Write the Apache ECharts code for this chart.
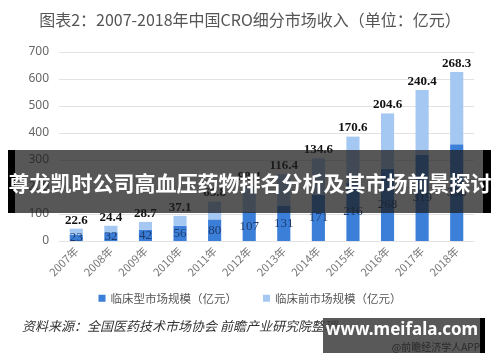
<!DOCTYPE html>
<html><head><meta charset="utf-8">
<script src="https://cdn.jsdelivr.net/npm/echarts@6/dist/echarts.min.js"></script>
<style>html,body{margin:0;padding:0;background:#fff}#c{width:500px;height:362px}</style>
</head><body><div id="c"></div>
<script>
const categories = ['2007年','2008年','2009年','2010年','2011年','2012年','2013年','2014年','2015年','2016年','2017年','2018年'];
const clinical = [23, 32, 42, 56, 80, 107, 131, 171, 216, 268, 319, 358];
const preclinical = [22.6, 24.4, 28.7, 37.1, 65.8, 98.4, 116.4, 134.6, 170.6, 204.6, 240.4, 268.3];
const yTicks = [0, 100, 200, 300, 400, 500, 600, 700];
const titleText = '图表2：2007-2018年中国CRO细分市场收入（单位：亿元）';
const legendNames = ['临床型市场规模（亿元）', '临床前市场规模（亿元）'];
const sourceText = '资料来源：全国医药技术市场协会 前瞻产业研究院整理';
const bannerText = '尊龙凯时公司高血压药物排名分析及其市场前景探讨';

const chart = echarts.init(document.getElementById('c'));
chart.setOption({
  animation: false,
  backgroundColor: '#fff',
  title: {text: titleText, left: 'center', top: 7,
    textStyle: {fontFamily: 'Noto Sans CJK SC', fontSize: 16, fontWeight: 'normal', color: '#555'}},
  grid: {left: 59, right: 26, top: 52, bottom: 121},
  legend: {data: legendNames, bottom: 53, itemWidth: 7, itemHeight: 7, itemGap: 26, icon: 'rect',
    textStyle: {fontFamily: 'Noto Sans CJK SC', fontSize: 11.5, color: '#555'}},
  xAxis: {type: 'category', data: categories,
    axisLine: {show: true, lineStyle: {color: '#e2e2e2'}}, axisTick: {show: false},
    axisLabel: {rotate: 45, margin: 8, fontFamily: 'Noto Sans CJK SC', fontSize: 11, color: '#777'}},
  yAxis: {type: 'value', min: yTicks[0], max: yTicks[yTicks.length-1], interval: 100,
    axisLine: {show: false}, axisTick: {show: false},
    splitLine: {lineStyle: {color: '#e2e2e2'}},
    axisLabel: {margin: 10, fontFamily: 'Noto Sans', fontSize: 12, color: '#666'}},
  series: [
    {name: legendNames[0], type: 'bar', stack: 't', data: clinical, barWidth: '38%',
      itemStyle: {color: '#3c7fd9'},
      label: {show: true, position: 'inside', fontFamily: 'Liberation Serif', fontSize: 13, color: '#1d3b6e'}},
    {name: legendNames[1], type: 'bar', stack: 't', data: preclinical, barWidth: '38%',
      itemStyle: {color: '#a5c8f3'},
      label: {show: true, position: 'top', distance: 2, fontFamily: 'Liberation Serif', fontSize: 13, fontWeight: 'bold', color: '#111'}}
  ],
  graphic: [
    {type: 'text', left: 22, top: 320, style: {text: sourceText, fontFamily: 'Noto Sans CJK SC', fontSize: 13, fontStyle: 'italic', fill: '#333'}},
    {type: 'rect', shape: {x: 8, y: 150, width: 482, height: 63}, style: {fill: 'rgba(28,28,28,0.74)'}, z: 100},
    {type: 'rect', shape: {x: 8, y: 150, width: 7, height: 63}, style: {fill: '#000'}, z: 101},
    {type: 'rect', shape: {x: 483, y: 150, width: 8, height: 63}, style: {fill: '#000'}, z: 101},
    {type: 'text', x: 250, y: 183, style: {text: bannerText, align: 'center', verticalAlign: 'middle',
      fontFamily: 'Noto Sans CJK SC', fontSize: 21, fontWeight: 'bold', fill: '#fff'}, z: 102},
    {type: 'rect', shape: {x: 323, y: 318, width: 158, height: 35}, style: {fill: 'rgba(60,60,60,0.85)'}, z: 100},
    {type: 'rect', shape: {x: 480, y: 318, width: 5, height: 35}, style: {fill: '#000'}, z: 101},
    {type: 'text', x: 402, y: 330, style: {text: 'www.meifala.com', align: 'center', verticalAlign: 'middle',
      fontFamily: 'Noto Sans', fontSize: 17, fontWeight: 'bold', fill: '#fff'}, z: 102},
    {type: 'text', x: 480, y: 347, style: {text: '@前瞻经济学人APP', align: 'right', verticalAlign: 'middle',
      fontFamily: 'Noto Sans CJK SC', fontSize: 10, fill: '#2a2a2a'}, z: 102}
  ]
});
</script></body></html>
